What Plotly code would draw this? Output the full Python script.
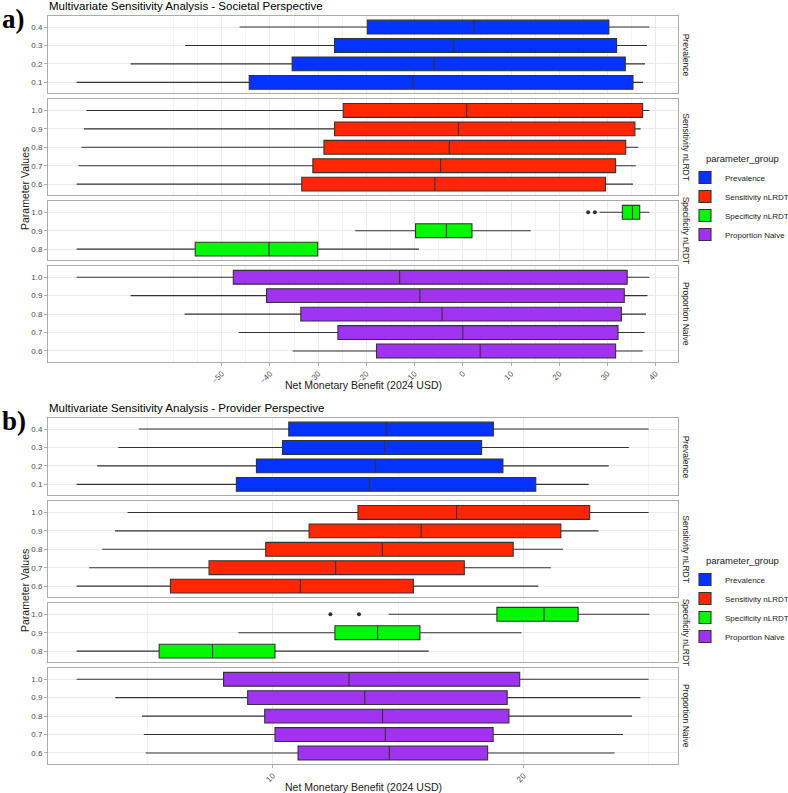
import plotly.graph_objects as go

W, H = 788, 793

# ---------------- data ----------------
groups = ["Prevalence", "Sensitivity nLRDT", "Specificity nLRDT", "Proportion Naive"]
group_colors = ["#0433FF", "#FF2600", "#00F900", "#A033F0"]

prev_levels = ["0.1", "0.2", "0.3", "0.4"]
sens_levels = ["0.6", "0.7", "0.8", "0.9", "1.0"]
spec_levels = ["0.8", "0.9", "1.0"]
prop_levels = ["0.6", "0.7", "0.8", "0.9", "1.0"]

# five-number summaries per level: [lower whisker, q1, median, q3, upper whisker]
# Societal perspective
soc_prevalence = [[-80.1, -44.3, -10.3, 35.3, 37.4],
                  [-68.9, -35.4, -6.0, 33.7, 37.8],
                  [-57.6, -26.6, -1.9, 31.9, 38.2],
                  [-46.3, -19.8, 2.3, 30.3, 38.7]]
soc_sensitivity = [[-80.1, -33.4, -5.8, 29.6, 35.3],
                   [-79.7, -31.1, -4.6, 31.7, 35.9],
                   [-79.1, -28.8, -2.8, 33.8, 36.4],
                   [-78.6, -26.6, -0.9, 35.7, 36.9],
                   [-78.1, -24.8, 0.8, 37.3, 38.7]]
soc_specificity = [[-80.1, -55.5, -40.2, -30.1, -9.1],
                   [-22.3, -9.8, -3.4, 1.9, 14.1],
                   [28.4, 33.1, 35.2, 36.7, 38.7]]
soc_proportion = [[-35.3, -17.9, 3.6, 31.7, 37.3],
                  [-46.5, -25.9, 0.0, 32.2, 37.7],
                  [-57.7, -33.6, -4.3, 32.9, 38.0],
                  [-68.9, -40.7, -8.9, 33.5, 38.3],
                  [-80.1, -47.6, -13.1, 34.1, 38.7]]
soc_spec_outlier_level = ["1.0", "1.0"]
soc_spec_outlier_value = [26.0, 27.4]

# Provider perspective
prov_prevalence = [[2.18, 8.55, 13.86, 20.49, 22.60],
                   [3.00, 9.35, 14.09, 19.18, 23.40],
                   [3.84, 10.39, 14.46, 18.33, 24.20],
                   [4.66, 10.64, 14.53, 18.80, 24.99]]
prov_sensitivity = [[2.18, 5.92, 11.10, 15.61, 20.59],
                    [2.68, 7.46, 12.51, 17.64, 21.09],
                    [3.20, 9.72, 14.37, 19.59, 21.58],
                    [3.71, 11.45, 15.92, 21.49, 22.99],
                    [4.21, 13.40, 17.33, 22.64, 24.99]]
prov_specificity = [[2.18, 5.47, 7.60, 10.09, 16.22],
                    [8.63, 12.48, 14.18, 15.87, 19.92],
                    [14.63, 18.94, 20.82, 22.18, 25.02]]
prov_proportion = [[4.93, 11.01, 14.65, 18.57, 23.63],
                   [4.86, 10.09, 14.49, 18.79, 23.97],
                   [4.79, 9.68, 14.38, 19.42, 24.33],
                   [3.72, 9.00, 13.67, 19.35, 24.66],
                   [2.18, 8.04, 13.04, 19.85, 24.99]]
prov_spec_outlier_level = ["1.0", "1.0"]
prov_spec_outlier_value = [12.30, 13.44]

soc_ticks = [-50, -40, -30, -20, -10, 0, 10, 20, 30, 40]
soc_minor = [-60, -55, -45, -35, -25, -15, -5, 5, 15, 25, 35]
prov_ticks = [10, 20]
prov_minor = [5, 15, 25]

titles = ["Multivariate Sensitivity Analysis - Societal Perspective",
          "Multivariate Sensitivity Analysis - Provider Perspective"]
panel_tags = ["a)", "b)"]
x_title = "Net Monetary Benefit (2024 USD)"
y_title = "Parameter Values"
legend_title = "parameter_group"

# ---------------- layout helpers ----------------
def xp(px):
    return px / W

def yp(px):
    return 1 - px / H

X0, X1 = 48, 678
BORDER = "#ababab"
GRID = "#ebebeb"
TICKC = "#4d4d4d"
FONT = "Liberation Sans"

panels = [
    dict(top=16, data=[soc_prevalence, soc_sensitivity, soc_specificity, soc_proportion],
         out=(soc_spec_outlier_level, soc_spec_outlier_value),
         ticks=soc_ticks, minor=soc_minor, legend="legend"),
    dict(top=418, data=[prov_prevalence, prov_sensitivity, prov_specificity, prov_proportion],
         out=(prov_spec_outlier_level, prov_spec_outlier_value),
         ticks=prov_ticks, minor=prov_minor, legend="legend2"),
]
levels_list = [prev_levels, sens_levels, spec_levels, prop_levels]

fig = go.Figure()
layout = dict(width=W, height=H, margin=dict(l=0, r=0, t=0, b=0, autoexpand=False),
              paper_bgcolor="white", plot_bgcolor="white",
              font=dict(family=FONT, color="#1a1a1a"), annotations=[])

TOTAL = 346
GAP = 6
units = [len(l) + 0.2 for l in levels_list]
unit = (TOTAL - 3 * GAP) / sum(units)

ax = 0
for pi, panel in enumerate(panels):
    # data range for x limits (ggplot 5% expansion)
    allv = [v for grp in panel["data"] for row in grp for v in row] + list(panel["out"][1])
    lo, hi = min(allv), max(allv)
    pad = 0.05 * (hi - lo)
    xr = [lo - pad, hi + pad]
    top = panel["top"]
    for gi, (grp, levels) in enumerate(zip(panel["data"], levels_list)):
        ax += 1
        h = units[gi] * unit
        y_top, y_bot = top, top + h
        top = y_bot + GAP
        xn = "x" if ax == 1 else f"x{ax}"
        yn = "y" if ax == 1 else f"y{ax}"
        last = gi == len(levels_list) - 1
        fig.add_trace(go.Box(
            y=levels,
            lowerfence=[r[0] for r in grp],
            q1=[r[1] for r in grp],
            median=[r[2] for r in grp],
            q3=[r[3] for r in grp],
            upperfence=[r[4] for r in grp],
            orientation="h", boxpoints=False, width=0.75, whiskerwidth=0,
            fillcolor=group_colors[gi], line=dict(color="#333333", width=1.1),
            name=groups[gi], legend=panel["legend"], showlegend=True,
            xaxis=xn, yaxis=yn, hoverinfo="skip"))
        if gi == 2:
            fig.add_trace(go.Scatter(
                x=panel["out"][1], y=panel["out"][0], mode="markers",
                marker=dict(color="#333333", size=4), showlegend=False,
                xaxis=xn, yaxis=yn, hoverinfo="skip"))
        layout["xaxis" if ax == 1 else f"xaxis{ax}"] = dict(
            domain=[xp(X0), xp(X1)], anchor=yn, range=xr,
            tickmode="array", tickvals=panel["ticks"],
            showticklabels=last, ticks="outside" if last else "", ticklen=3,
            tickcolor=BORDER, tickangle=-45,
            tickfont=dict(size=8, color=TICKC, family=FONT),
            showgrid=True, gridcolor=GRID, gridwidth=1, zeroline=False,
            minor=dict(tickmode="array", tickvals=panel["minor"], showgrid=True,
                       gridcolor="#f3f3f3", gridwidth=1, ticks=""),
            showline=True, linecolor=BORDER, linewidth=1, mirror=True)
        layout["yaxis" if ax == 1 else f"yaxis{ax}"] = dict(
            domain=[yp(y_bot), yp(y_top)], anchor=xn,
            type="category", categoryorder="array", categoryarray=levels,
            range=[-0.6, len(levels) - 0.4],
            ticks="outside", ticklen=3, tickcolor=BORDER,
            tickfont=dict(size=8, color=TICKC, family=FONT),
            showgrid=True, gridcolor=GRID, gridwidth=1, zeroline=False,
            showline=True, linecolor=BORDER, linewidth=1, mirror=True)
        layout["annotations"].append(dict(
            text=groups[gi], textangle=90, xref="paper", yref="paper",
            x=xp(686), y=yp((y_top + y_bot) / 2), xanchor="center", yanchor="middle",
            showarrow=False, font=dict(size=8.5, color="#1a1a1a", family=FONT)))
    ptop = panel["top"]
    # title, tag, axis titles, legend title
    layout["annotations"] += [
        dict(text=titles[pi], xref="paper", yref="paper", x=xp(X0 - 1), y=yp(ptop - 10),
             xanchor="left", yanchor="middle", showarrow=False,
             font=dict(size=11.5, color="black", family=FONT)),
        dict(text="<b>" + panel_tags[pi] + "</b>", xref="paper", yref="paper",
             x=xp(0), y=yp(ptop + 3), xanchor="left", yanchor="middle", showarrow=False,
             font=dict(size=27, color="black", family="Liberation Serif")),
        dict(text=x_title, xref="paper", yref="paper", x=xp((X0 + X1) / 2),
             y=yp(ptop + TOTAL + 23), xanchor="center", yanchor="middle", showarrow=False,
             font=dict(size=10.5, color="#1a1a1a", family=FONT)),
        dict(text=y_title, textangle=-90, xref="paper", yref="paper", x=xp(25),
             y=yp(ptop + TOTAL / 2), xanchor="center", yanchor="middle", showarrow=False,
             font=dict(size=10.5, color="#1a1a1a", family=FONT)),
        dict(text=legend_title, xref="paper", yref="paper", x=xp(704),
             y=yp(ptop + 142), xanchor="left", yanchor="middle", showarrow=False,
             font=dict(size=9.5, color="#1a1a1a", family=FONT)),
    ]
    layout[panel["legend"]] = dict(
        x=xp(685), y=yp(ptop + 147), xanchor="left", yanchor="top",
        font=dict(size=8, color="#1a1a1a", family=FONT),
        bgcolor="rgba(0,0,0,0)", itemclick=False, itemdoubleclick=False,
        tracegroupgap=0, traceorder="normal")

fig.update_layout(**layout)
fig.write_html("out.html")
